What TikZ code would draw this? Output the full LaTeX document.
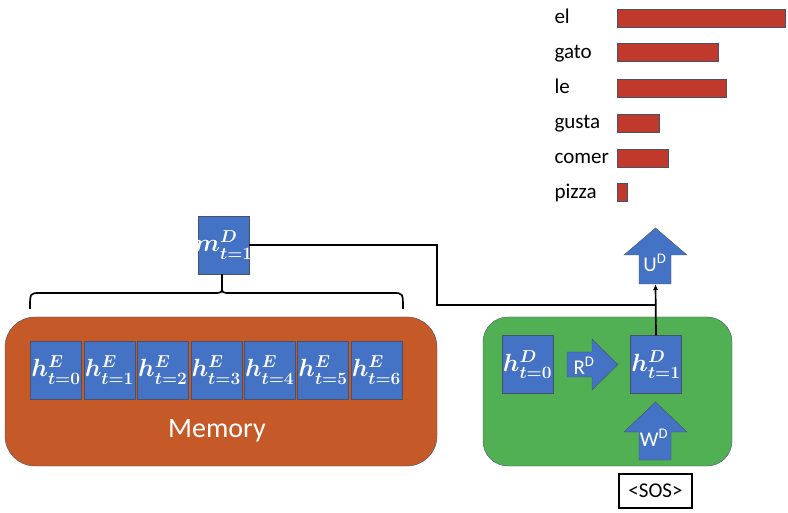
\documentclass[tikz,border=0pt]{standalone}
\usepackage{fontspec}
\setmainfont{Carlito}
\usetikzlibrary{positioning,arrows.meta}
\definecolor{boxblue}{RGB}{68,114,196}
\definecolor{memorange}{RGB}{197,90,40}
\definecolor{decgreen}{RGB}{82,176,84}
\definecolor{barred}{RGB}{192,57,43}
\definecolor{edgegray}{RGB}{72,82,104}

\begin{document}
\begin{tikzpicture}[x=1pt,y=-1pt,
        hidden/.style={draw=edgegray,fill=boxblue,text=white,minimum width=51pt,minimum height=58pt,
            inner sep=0pt,font=\fontsize{23}{23}\selectfont\boldmath},
        blockarrow/.style={draw=edgegray,fill=boxblue},
        arrowlabel/.style={text=white,font=\fontsize{21}{21}\selectfont},
        word/.style={anchor=base west,font=\fontsize{21}{21}\selectfont},
        bar/.style={draw=edgegray,fill=barred,anchor=west,minimum height=18pt,inner sep=0pt},
        wire/.style={line width=1.7pt}]
        \useasboundingbox (0,0) rectangle (788,513);
        % encoder memory
        \node[draw=edgegray,fill=memorange,rounded corners=30pt,minimum width=432pt,minimum height=149pt] (memory) at (221,391.5) {};
        \node[text=white,font=\fontsize{28}{28}\selectfont] (memlabel) at (217,431) {Memory};
        \node[hidden] (he0) at (56,370) {$h^{E}_{t=0}$};
        \node[hidden,right=2pt of he0] (he1) {$h^{E}_{t=1}$};
        \node[hidden,right=2pt of he1] (he2) {$h^{E}_{t=2}$};
        \node[hidden,right=2pt of he2] (he3) {$h^{E}_{t=3}$};
        \node[hidden,right=2pt of he3] (he4) {$h^{E}_{t=4}$};
        \node[hidden,right=2pt of he4] (he5) {$h^{E}_{t=5}$};
        \node[hidden,right=2pt of he5] (he6) {$h^{E}_{t=6}$};
        % memory summary
        \node[hidden] (md1) at (223.5,245) {\makebox[0pt]{$m^{D}_{t=1}$}};
        \coordinate (bracetip) at (222,287);
        \draw[wire] (30,309) .. controls (30,293) .. (40,293) -- (212,293) .. controls (222,293) .. (bracetip)
            .. controls (222,293) .. (232,293) -- (393,293) .. controls (403,293) .. (403,309);
        \draw[wire] (bracetip) -- (bracetip |- md1.south);
        % decoder
        \node[draw=edgegray,fill=decgreen,rounded corners=25pt,minimum width=249pt,minimum height=149pt] (decoder) at (607.5,391.5) {};
        \node[hidden] (hd0) at (527.5,364.5) {$h^{D}_{t=0}$};
        \node[hidden] (hd1) at (656,364.5) {$h^{D}_{t=1}$};
        \draw[blockarrow] (567,352) -- (592,352) -- (592,339) -- (618,364.5) -- (592,390) -- (592,377) -- (567,377) -- cycle;
        \node[arrowlabel] (rd) at (584,366) {R\textsuperscript{D}};
        \draw[blockarrow] (639,460) -- (639,432) -- (624,432) -- (655.5,402) -- (687,432) -- (671,432) -- (671,460) -- cycle;
        \node[arrowlabel] (wd) at (654,438) {W\textsuperscript{D}};
        \draw[blockarrow] (639,284) -- (639,255) -- (624,255) -- (655.5,228) -- (687,255) -- (671,255) -- (671,284) -- cycle;
        \node[arrowlabel] (ud) at (655,263) {U\textsuperscript{D}};
        \coordinate (ubase) at (655.5,284);
        \node[draw,line width=1.7pt,minimum width=73pt,minimum height=34pt,inner sep=0pt,font=\fontsize{21}{21}\selectfont] (sos) at (655.5,491) {<SOS>};
        % connectors
        \coordinate (bend) at (437,305);
        \coordinate (joint) at (655.5,305);
        \draw[wire] (md1.east) -| (bend) -- (joint);
        \draw[wire,-{Latex[length=6pt,width=5pt]}] (hd1.north) -- (ubase);
        % output distribution
        \node[word] (w-el) at (551,24) {el};
        \node[word] (w-gato) at (551,59) {gato};
        \node[word] (w-le) at (551,94) {le};
        \node[word] (w-gusta) at (551,129) {gusta};
        \node[word] (w-comer) at (551,164) {comer};
        \node[word] (w-pizza) at (551,199) {pizza};
        \node[bar,minimum width=168pt] (b-el) at (617,18) {};
        \node[bar,minimum width=101pt] (b-gato) at (617,52.5) {};
        \node[bar,minimum width=109pt] (b-le) at (617,88) {};
        \node[bar,minimum width=42pt] (b-gusta) at (617,123) {};
        \node[bar,minimum width=51pt] (b-comer) at (617,158) {};
        \node[bar,minimum width=10pt] (b-pizza) at (617,192.5) {};
\end{tikzpicture}
\end{document}
